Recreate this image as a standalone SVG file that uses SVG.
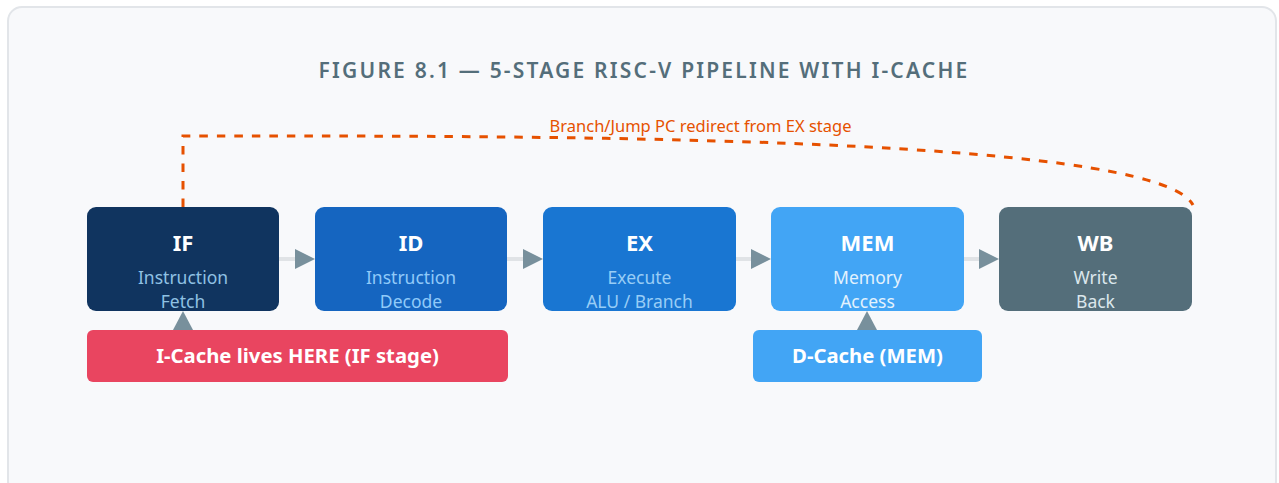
<svg xmlns="http://www.w3.org/2000/svg" width="1279" height="483" viewBox="0 0 1279 483">
<defs>
<style>
.card{fill:#f8f9fb;stroke:#e2e5e9;stroke-width:2}
.title{font-family:"Noto Sans","Open Sans",sans-serif;font-size:21px;font-weight:600;fill:#546e7a;letter-spacing:2.2px}
.st{font-family:"Noto Sans","Open Sans",sans-serif;font-size:22px;font-weight:700;fill:#ffffff}
.sub{font-family:"Noto Sans","Open Sans",sans-serif;font-size:17.5px;font-weight:400}
.cache{font-family:"Noto Sans","Open Sans",sans-serif;font-size:20.3px;font-weight:700;fill:#ffffff}
.lbl{font-family:"Noto Sans","Open Sans",sans-serif;font-size:16.5px;fill:#e65100}
.flow{stroke:#e0e3e6;stroke-width:4;fill:none}
.ah{fill:#78909c}
.redir{stroke:#e65100;stroke-width:3;fill:none;stroke-dasharray:8.5 9}
</style>
</defs>
<rect x="0" y="0" width="1279" height="483" fill="#ffffff"/>
<rect class="card" x="8" y="7" width="1268" height="488" rx="14"/>
<text class="title" x="644" y="78" text-anchor="middle">FIGURE 8.1 — 5-STAGE RISC-V PIPELINE WITH I-CACHE</text>

<g id="connectors">
<line class="flow" x1="279" y1="259" x2="300" y2="259"/>
<polygon class="ah" points="295,249 315,259 295,269"/>
<line class="flow" x1="507" y1="259" x2="528" y2="259"/>
<polygon class="ah" points="523,249 543,259 523,269"/>
<line class="flow" x1="736" y1="259" x2="756" y2="259"/>
<polygon class="ah" points="751,249 771,259 751,269"/>
<line class="flow" x1="964" y1="259" x2="984" y2="259"/>
<polygon class="ah" points="979,249 999,259 979,269"/>
<polygon class="ah" points="173,330 183,311 193,330"/>
<polygon class="ah" points="857,330 867,311 877,330"/>
<path class="redir" d="M183 207 L183 136 C500 136 1155 133 1193 205"/>
<text class="lbl" x="700.5" y="132" text-anchor="middle">Branch/Jump PC redirect from EX stage</text>
</g>

<g id="IF">
<rect x="87" y="207" width="192" height="104" rx="9" fill="#10345f"/>
<text class="st" x="183" y="251" text-anchor="middle">IF</text>
<text class="sub" x="183" y="284" text-anchor="middle" fill="#8fc1e3">Instruction</text>
<text class="sub" x="183" y="308" text-anchor="middle" fill="#8fc1e3">Fetch</text>
</g>
<g id="ID">
<rect x="315" y="207" width="192" height="104" rx="9" fill="#1565c0"/>
<text class="st" x="411" y="251" text-anchor="middle">ID</text>
<text class="sub" x="411" y="284" text-anchor="middle" fill="#90caf9">Instruction</text>
<text class="sub" x="411" y="308" text-anchor="middle" fill="#90caf9">Decode</text>
</g>
<g id="EX">
<rect x="543" y="207" width="193" height="104" rx="9" fill="#1976d2"/>
<text class="st" x="639.5" y="251" text-anchor="middle">EX</text>
<text class="sub" x="639.5" y="284" text-anchor="middle" fill="#98cdf6">Execute</text>
<text class="sub" x="639.5" y="308" text-anchor="middle" fill="#98cdf6">ALU / Branch</text>
</g>
<g id="MEM">
<rect x="771" y="207" width="193" height="104" rx="9" fill="#42a5f5"/>
<text class="st" x="867.5" y="251" text-anchor="middle">MEM</text>
<text class="sub" x="867.5" y="284" text-anchor="middle" fill="#e3f2fd">Memory</text>
<text class="sub" x="867.5" y="308" text-anchor="middle" fill="#e3f2fd">Access</text>
</g>
<g id="WB">
<rect x="999" y="207" width="193" height="104" rx="9" fill="#546e7a"/>
<text class="st" x="1095.5" y="251" text-anchor="middle">WB</text>
<text class="sub" x="1095.5" y="284" text-anchor="middle" fill="#dbe7ec">Write</text>
<text class="sub" x="1095.5" y="308" text-anchor="middle" fill="#dbe7ec">Back</text>
</g>
<g id="ICache">
<rect x="87" y="330" width="421" height="52" rx="6" fill="#e94560"/>
<text class="cache" x="297.5" y="363" text-anchor="middle">I-Cache lives HERE (IF stage)</text>
</g>
<g id="DCache">
<rect x="753" y="330" width="229" height="52" rx="6" fill="#42a5f5"/>
<text class="cache" x="867.5" y="363" text-anchor="middle">D-Cache (MEM)</text>
</g>
</svg>
